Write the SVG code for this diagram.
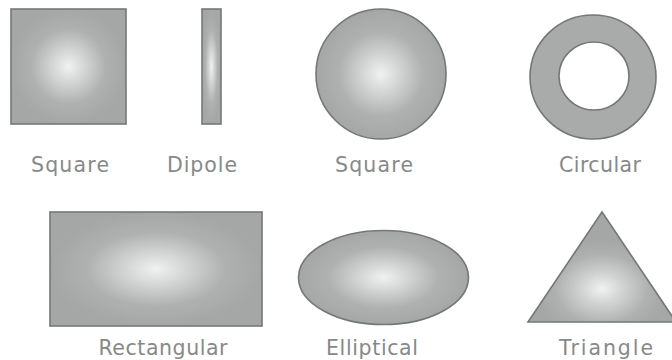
<svg xmlns="http://www.w3.org/2000/svg" width="672" height="360" viewBox="0 0 672 360">
<style>
.sh{fill:url(#g);stroke:#737877;stroke-width:1.6}
.rg{fill:#a8abaa;stroke:#737877;stroke-width:1.6}
.lb{font-family:"DejaVu Sans","Open Sans",sans-serif;font-size:20.5px;fill:#878989;text-anchor:middle}
</style>
<defs>
<radialGradient id="g" cx="0.5" cy="0.5" r="0.5">
<stop offset="0" stop-color="#f0f1f1"/>
<stop offset="0.3" stop-color="#d2d4d3"/>
<stop offset="0.65" stop-color="#aeb1b0"/>
<stop offset="1" stop-color="#a4a7a6"/>
</radialGradient>
<radialGradient id="gt" cx="0.5" cy="0.7" r="0.45">
<stop offset="0" stop-color="#f0f1f1"/>
<stop offset="0.3" stop-color="#d2d4d3"/>
<stop offset="0.7" stop-color="#aeb1b0"/>
<stop offset="1" stop-color="#a4a7a6"/>
</radialGradient>
</defs>
<rect width="672" height="360" fill="#ffffff"/>
<g id="square1">
<rect class="sh" x="11" y="9" width="115" height="115"/>
<text class="lb" x="70" y="172" textLength="78" lengthAdjust="spacing">Square</text>
</g>
<g id="dipole">
<rect class="sh" x="202" y="9" width="19" height="115"/>
<text class="lb" x="202" y="172" textLength="70" lengthAdjust="spacing">Dipole</text>
</g>
<g id="square2">
<circle class="sh" cx="381" cy="74" r="65"/>
<text class="lb" x="374" y="172" textLength="78" lengthAdjust="spacing">Square</text>
</g>
<g id="circular">
<path class="rg" fill-rule="evenodd" d="M530,77a63,62 0 1,0 126,0a63,62 0 1,0 -126,0zM559,76a35,34 0 1,0 70,0a35,34 0 1,0 -70,0z"/>
<text class="lb" x="600" y="172" textLength="82" lengthAdjust="spacing">Circular</text>
</g>
<g id="rectangular">
<rect class="sh" x="50" y="212" width="212" height="114"/>
<text class="lb" x="163" y="355" textLength="129" lengthAdjust="spacing">Rectangular</text>
</g>
<g id="elliptical">
<ellipse class="sh" cx="383.5" cy="277.5" rx="85" ry="47"/>
<text class="lb" x="372" y="355" textLength="92" lengthAdjust="spacing">Elliptical</text>
</g>
<g id="triangle">
<polygon class="sh" style="fill:url(#gt)" points="602,212 528,322 676,322"/>
<text class="lb" x="606" y="355" textLength="94" lengthAdjust="spacing">Triangle</text>
</g>
</svg>
